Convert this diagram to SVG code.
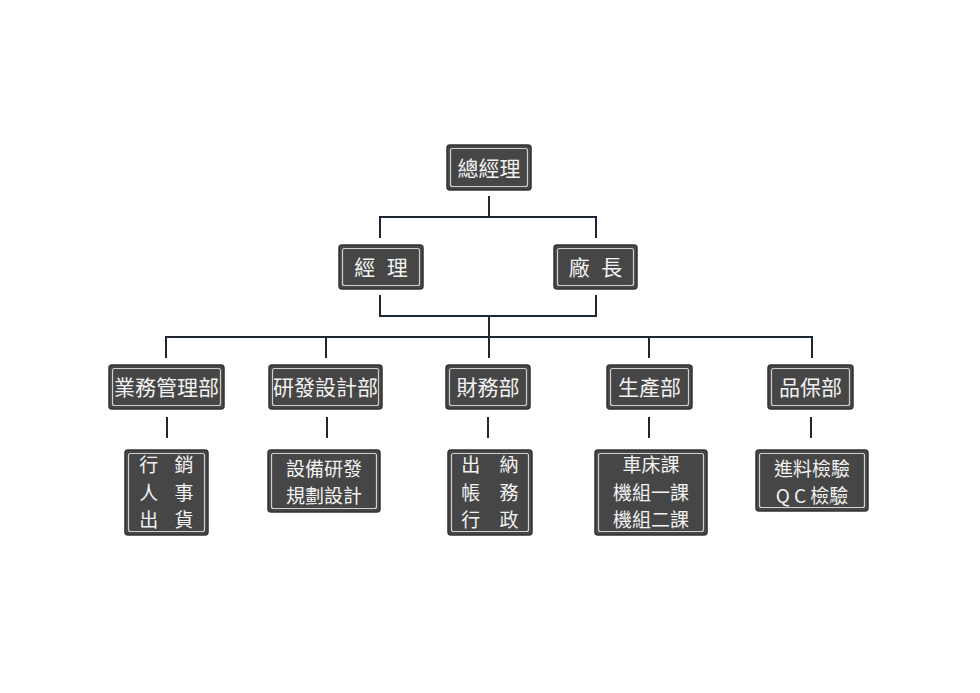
<svg xmlns="http://www.w3.org/2000/svg" width="980" height="693" viewBox="0 0 980 693">
<style>
.o{fill:#464646;stroke:#333;stroke-width:1.5}
.i{fill:none;stroke:#cfcfcf;stroke-width:1.2}
.t{font-family:"Noto Sans CJK TC","Noto Sans CJK SC",sans-serif;font-size:21px;fill:#f2f2f2;text-anchor:middle}
.m{font-size:19px}
.c{fill:none;stroke:#1e2833;stroke-width:2}
</style>
<rect width="980" height="693" fill="#fff"/>
<g id="connectors">
<path class="c" d="M489 196V217M380 238V217H596V238"/>
<path class="c" d="M380 295V316H596V295M489 316V358"/>
<path class="c" d="M166 358V337H812V358M326 337V358M649 337V358"/>
<path class="c" d="M167 417V438M327 417V438M488 417V438M649 417V438M811 417V438"/>
</g>
<g id="n-gm"><rect class="o" x="447" y="145" width="84" height="45" rx="3"/><rect class="i" x="450.5" y="148.5" width="77" height="38" rx="2"/><text class="t" x="489" y="176">總經理</text></g>
<g id="n-mgr"><rect class="o" x="339" y="245" width="84" height="44" rx="3"/><rect class="i" x="342.5" y="248.5" width="77" height="37" rx="2"/><text class="t" x="381" y="275" word-spacing="7">經 理</text></g>
<g id="n-plant"><rect class="o" x="554" y="245" width="83" height="44" rx="3"/><rect class="i" x="557.5" y="248.5" width="76" height="37" rx="2"/><text class="t" x="595.5" y="275" word-spacing="7">廠 長</text></g>
<g id="n-sales"><rect class="o" x="109" y="365" width="115" height="44" rx="3"/><rect class="i" x="112.5" y="368.5" width="108" height="37" rx="2"/><text class="t" x="166.5" y="395">業務管理部</text></g>
<g id="n-rd"><rect class="o" x="269" y="365" width="113" height="44" rx="3"/><rect class="i" x="272.5" y="368.5" width="106" height="37" rx="2"/><text class="t" x="325.5" y="395">研發設計部</text></g>
<g id="n-fin"><rect class="o" x="446" y="365" width="84" height="44" rx="3"/><rect class="i" x="449.5" y="368.5" width="77" height="37" rx="2"/><text class="t" x="488" y="395">財務部</text></g>
<g id="n-prod"><rect class="o" x="607" y="365" width="85" height="44" rx="3"/><rect class="i" x="610.5" y="368.5" width="78" height="37" rx="2"/><text class="t" x="649.5" y="395">生產部</text></g>
<g id="n-qa"><rect class="o" x="768" y="365" width="85" height="44" rx="3"/><rect class="i" x="771.5" y="368.5" width="78" height="37" rx="2"/><text class="t" x="810.5" y="395">品保部</text></g>
<g id="n-sales-sub"><rect class="o" x="125" y="450" width="83" height="85" rx="3"/><rect class="i" x="128.5" y="453.5" width="76" height="78" rx="2"/><text class="t m" x="166.5" y="472" word-spacing="12">行 銷</text><text class="t m" x="166.5" y="499.6" word-spacing="12">人 事</text><text class="t m" x="166.5" y="527.2" word-spacing="12">出 貨</text></g>
<g id="n-rd-sub"><rect class="o" x="268" y="450" width="112" height="62" rx="3"/><rect class="i" x="271.5" y="453.5" width="105" height="55" rx="2"/><text class="t m" x="324" y="475.5">設備研發</text><text class="t m" x="324" y="503.1">規劃設計</text></g>
<g id="n-fin-sub"><rect class="o" x="448" y="450" width="84" height="85" rx="3"/><rect class="i" x="451.5" y="453.5" width="77" height="78" rx="2"/><text class="t m" x="490" y="472" word-spacing="15">出 納</text><text class="t m" x="490" y="499.6" word-spacing="15">帳 務</text><text class="t m" x="490" y="527.2" word-spacing="15">行 政</text></g>
<g id="n-prod-sub"><rect class="o" x="595" y="450" width="112" height="85" rx="3"/><rect class="i" x="598.5" y="453.5" width="105" height="78" rx="2"/><text class="t m" x="651" y="472">車床課</text><text class="t m" x="651" y="499.6">機組一課</text><text class="t m" x="651" y="527.2">機組二課</text></g>
<g id="n-qa-sub"><rect class="o" x="756" y="450" width="112" height="61" rx="3"/><rect class="i" x="759.5" y="453.5" width="105" height="54" rx="2"/><text class="t m" x="812" y="475.5">進料檢驗</text><text class="t m" x="812" y="503.1">Q C 檢驗</text></g>
</svg>
